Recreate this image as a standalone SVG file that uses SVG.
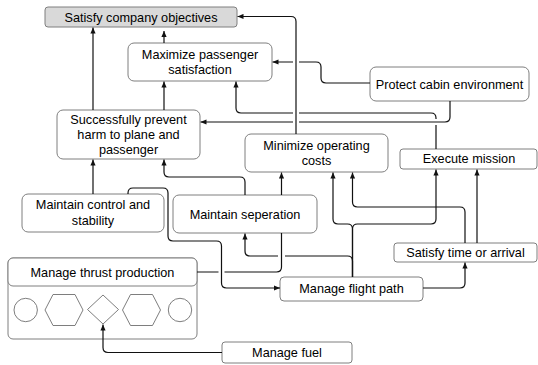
<svg xmlns="http://www.w3.org/2000/svg" width="538" height="365" viewBox="0 0 538 365">
  <style>
    .box { fill: #ffffff; stroke: #7f7f7f; stroke-width: 1; }
    .goal { fill: #d9d9d9; stroke: #7f7f7f; stroke-width: 1; }
    .shape { fill: #ffffff; stroke: #6f6f6f; stroke-width: 0.9; }
    .lbl { font-family: "Liberation Sans", Arial, Helvetica, sans-serif; font-size: 12.7px; fill: #000000; text-anchor: middle; }
    .edge { fill: none; stroke: #111111; stroke-width: 1.2; }
    .arrow { marker-end: url(#head); }
  </style>
  <defs>
    <marker id="head" viewBox="0 0 6 6" refX="6" refY="3" markerWidth="6" markerHeight="6" markerUnits="userSpaceOnUse" orient="auto">
      <path d="M0,0.4 L6,3 L0,5.6 Z" fill="#111111"/>
    </marker>
  </defs>

  <g id="satisfy-company-objectives">
    <rect class="goal" x="45" y="7" width="192" height="20" rx="3"/>
    <text class="lbl" x="141" y="21.5">Satisfy company objectives</text>
  </g>

  <g id="maximize-passenger-satisfaction">
    <rect class="box" x="128" y="43" width="144" height="38" rx="6"/>
    <text class="lbl" x="200" y="58.5">Maximize passenger</text>
    <text class="lbl" x="200" y="73.5">satisfaction</text>
  </g>

  <g id="prevent-harm">
    <rect class="box" x="57" y="110" width="143" height="49" rx="6"/>
    <text class="lbl" x="128.5" y="123.5">Successfully prevent</text>
    <text class="lbl" x="128.5" y="138.5">harm to plane and</text>
    <text class="lbl" x="128.5" y="153.5">passenger</text>
  </g>

  <g id="protect-cabin-environment">
    <rect class="box" x="370" y="67" width="159" height="34" rx="6"/>
    <text class="lbl" x="449.5" y="88.5">Protect cabin environment</text>
  </g>

  <g id="minimize-operating-costs">
    <rect class="box" x="245" y="134" width="143" height="38" rx="6"/>
    <text class="lbl" x="316.5" y="150">Minimize operating</text>
    <text class="lbl" x="316.5" y="165">costs</text>
  </g>

  <g id="execute-mission">
    <rect class="box" x="400" y="149" width="137" height="20" rx="3"/>
    <text class="lbl" x="469" y="163">Execute mission</text>
  </g>

  <g id="maintain-control-and-stability">
    <rect class="box" x="22" y="194" width="142" height="38" rx="6"/>
    <text class="lbl" x="93" y="209">Maintain control and</text>
    <text class="lbl" x="93" y="224.5">stability</text>
  </g>

  <g id="maintain-seperation">
    <rect class="box" x="173" y="195" width="144" height="38" rx="6"/>
    <text class="lbl" x="245" y="218.5">Maintain seperation</text>
  </g>

  <g id="manage-thrust-production">
    <rect class="box" x="8" y="258" width="189" height="81" rx="5"/>
    <rect class="box" x="8" y="258" width="189" height="28" rx="5"/>
    <text class="lbl" x="102.5" y="276.5">Manage thrust production</text>
    <circle class="shape" cx="25.7" cy="310" r="11.7"/>
    <polygon class="shape" points="45,310 53,294.5 75,294.5 83,310 75,325.5 53,325.5"/>
    <polygon class="shape" points="87.5,309.5 103,295 118.5,309.5 103,324"/>
    <polygon class="shape" points="122.5,310 130.5,294.5 152.5,294.5 160.5,310 152.5,325.5 130.5,325.5"/>
    <circle class="shape" cx="180" cy="310" r="11.7"/>
  </g>

  <g id="manage-flight-path">
    <rect class="box" x="280" y="277" width="143" height="24" rx="4"/>
    <text class="lbl" x="351.5" y="293">Manage flight path</text>
  </g>

  <g id="satisfy-time-or-arrival">
    <rect class="box" x="394" y="243" width="143" height="19" rx="3"/>
    <text class="lbl" x="465.5" y="256.5">Satisfy time or arrival</text>
  </g>

  <g id="manage-fuel">
    <rect class="box" x="222" y="342" width="130" height="21" rx="3"/>
    <text class="lbl" x="287" y="357">Manage fuel</text>
  </g>

  <!-- connectors (breaks mark where a line hops over another, or runs under a box) -->
  <g id="connectors">
    <path class="edge arrow" d="M93,110 V27.5"/>
    <path class="edge arrow" d="M164,43 V31"/>
    <path class="edge arrow" d="M164,110 V81.5"/>
    <path class="edge arrow" d="M296,134 V21.5 Q296,16.5 291,16.5 H237.5"/>
    <path class="edge arrow" d="M370,83 H326 Q321,83 321,78 V67 Q321,62 316,62 H299 M293,62 H272.5"/>
    <path class="edge arrow" d="M436,149 V125 M436,119 L436,118 Q436,113 431,113 H299 M293,113 H241 Q236,113 236,108 V81.5"/>
    <path class="edge arrow" d="M450,101 V117 Q450,122 445,122 H299 M293,122 H200.5"/>
    <path class="edge arrow" d="M93,194 V159.5"/>
    <path class="edge arrow" d="M245,195 V182 Q245,177 240,177 H169 Q164,177 164,172 V159.5"/>
    <path class="edge arrow" d="M197,272 H218.5 M224.5,272 H276.5 Q281.5,272 281.5,267 V233 M281.5,195 V172.5"/>
    <path class="edge arrow" d="M128,194 V193 Q128,188 133,188 H163 Q168,188 168,193 V236 Q168,241 173,241 H216.5 Q221.5,241 221.5,246 V283 Q221.5,288 226.5,288 H280"/>
    <path class="edge arrow" d="M352.5,277 V261 Q352.5,256 347.5,256 H285 M278,256 H250 Q245,256 245,251 V233.5"/>
    <path class="edge arrow" d="M352.5,277 V229 Q352.5,224 347.5,224 H338 Q333,224 333,219 V172.5"/>
    <path class="edge arrow" d="M352.5,277 V229 Q352.5,224 357.5,224 H431 Q436,224 436,219 V169.5"/>
    <path class="edge arrow" d="M465,243 V212 Q465,207 460,207 H357.5 Q352.5,207 352.5,202 V172.5"/>
    <path class="edge arrow" d="M477,243 V169.5"/>
    <path class="edge arrow" d="M423,288 H460 Q465,288 465,283 V262.5"/>
    <path class="edge arrow" d="M222,352.5 H108 Q103,352.5 103,347.5 V324.5"/>
  </g>
</svg>
